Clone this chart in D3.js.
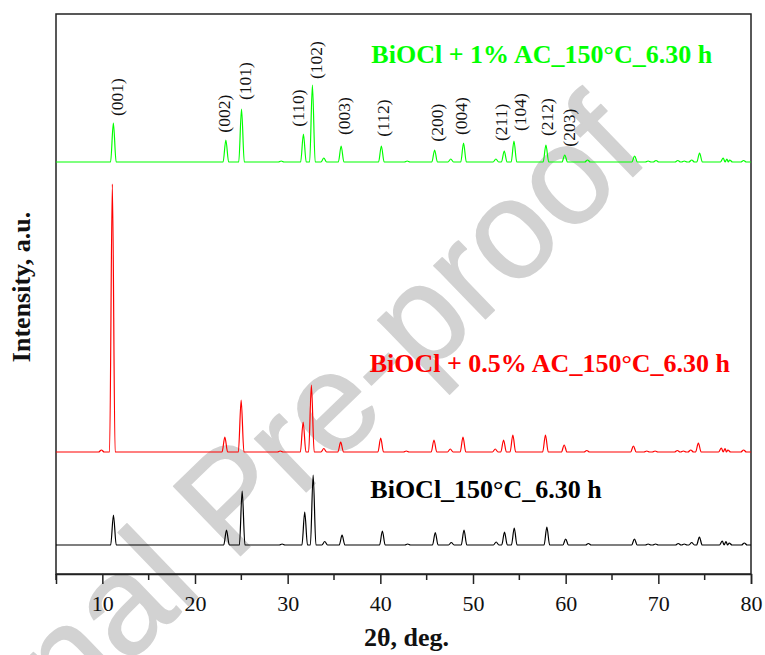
<!DOCTYPE html>
<html><head><meta charset="utf-8">
<script src="https://cdn.jsdelivr.net/npm/d3@7"></script>
<style>body{margin:0;background:#fff} svg{display:block}</style>
</head><body>
<svg id="c" width="765" height="655"></svg>
<script>
// ---------- data ----------
const seriesNames = ["BiOCl_150°C_6.30 h", "BiOCl + 0.5% AC_150°C_6.30 h", "BiOCl + 1% AC_150°C_6.30 h"];
const seriesColors = ["#000000", "#ff0000", "#00ff00"];
const seriesOffsets = [29, 122, 412];   // vertical stacking offsets (a.u.)

// [2theta, intensity above baseline]
const peaksBlack = [[11.2,30],[23.4,15],[25.09,54],[29.4,1],[31.84,33],[32.75,70],[34.0,3.5],[35.87,10],[40.22,14],[42.95,1],[45.93,12.5],[47.66,2.5],[49.03,15],[52.5,3],[53.4,13],[54.45,17],[57.97,18],[60.0,6],[62.45,1.5],[67.42,6],[68.9,1],[69.7,1],[72.15,1.5],[72.8,1],[73.6,2.5],[74.43,8],[76.9,4],[77.3,3.5],[77.65,2],[79.28,2]];
const peaksRed = [[9.9,2],[11.08,268],[23.22,15],[24.98,52],[29.2,1],[31.67,30],[32.56,67],[33.9,3.5],[35.72,10],[40.04,14],[42.8,1],[45.79,12],[47.55,3],[48.92,15],[52.4,3],[53.3,12],[54.3,17],[57.82,17],[59.84,7],[62.28,1.5],[67.31,6],[68.75,1],[69.65,1],[72.05,1.5],[72.7,1],[73.5,2],[74.32,9],[76.8,4],[77.2,3.5],[77.5,2],[79.2,2]];
const peaksGreen = [[11.19,39],[23.33,22],[25.02,53],[29.3,1],[31.7,28],[32.67,77],[33.9,4],[35.77,16],[40.11,16],[42.9,1],[45.86,12],[47.6,3],[48.98,19],[52.47,3],[53.37,11],[54.42,21],[57.87,17],[59.9,7],[62.36,2],[67.44,6],[68.9,1],[69.75,1.5],[72.1,1.5],[72.8,1],[73.6,2],[74.45,9],[77.0,4],[77.4,3],[77.7,2],[79.2,1.5]];

const hklLabels = ["(001)","(002)","(101)","(110)","(102)","(003)","(112)","(200)","(004)","(211)","(104)","(212)","(203)"];
const hklAngles = [11.62,23.11,25.34,31.13,33.0,36.05,40.29,46.11,48.73,53.01,55.10,57.97,60.30];
const hklHeights = [458,441.3,474,447.3,495,439,437.3,432.3,439,433,443,438,427.3];

const xTicks = [10,20,30,40,50,60,70,80];
const xMinorTicks = [5,15,25,35,45,55,65,75];

// ---------- layout ----------
const M = {left:56, right:751, top:14, bottom:574};
const svg = d3.select("#c");
const x = d3.scaleLinear().domain([5,80]).range([M.left, M.right]);
const y = d3.scaleLinear().domain([0,560]).range([M.bottom, M.top]);
const serif = "'Liberation Serif','Times New Roman',Times,serif";

// watermark
svg.append("text")
  .attr("transform", "translate(652,158) rotate(-44)")
  .attr("text-anchor","end")
  .attr("font-family","'Liberation Sans',Arial,sans-serif")
  .attr("font-size",140)
  .attr("fill","#d2d2d2").attr("stroke","#d2d2d2").attr("stroke-width",1.5)
  .attr("stroke-linejoin","round")
  .text("Journal Pre-proof");

// frame
svg.append("rect").attr("x",M.left).attr("y",M.top)
  .attr("width",M.right-M.left).attr("height",M.bottom-M.top)
  .attr("fill","none").attr("stroke","#222").attr("stroke-width",1.5);

// x axis
const gx = svg.append("g").attr("transform",`translate(0,${M.bottom})`);
gx.call(d3.axisBottom(x).tickValues(xTicks).tickSize(10).tickPadding(11).tickFormat(d3.format("d")))
  .call(g=>g.select(".domain").attr("stroke","#222").attr("stroke-width",1.5))
  .call(g=>g.selectAll(".tick line").attr("stroke","#222").attr("stroke-width",1.5))
  .call(g=>g.selectAll(".tick text").attr("font-family",serif).attr("font-size",22).attr("fill","#111"));
gx.selectAll(".minor").data(xMinorTicks).join("line").attr("class","minor")
  .attr("x1",d=>x(d)).attr("x2",d=>x(d)).attr("y1",0).attr("y2",6)
  .attr("stroke","#222").attr("stroke-width",1.5);

// series lines
const HW = 0.3;
function profile(peaks){
  const pts = [[5,0]];
  peaks.forEach((p,i)=>{
    const prev = peaks[i-1], next = peaks[i+1];
    const l = prev ? Math.max(p[0]-HW,(prev[0]+p[0])/2) : p[0]-HW;
    const r = next ? Math.min(p[0]+HW,(p[0]+next[0])/2) : p[0]+HW;
    if (pts[pts.length-1][0] < l) pts.push([l,0]);
    pts.push([p[0],p[1]]);
    pts.push([r,0]);
  });
  pts.push([80,0]);
  return pts;
}
const allPeaks = [peaksBlack, peaksRed, peaksGreen];
allPeaks.forEach((pk,i)=>{
  const off = seriesOffsets[i];
  const line = d3.line().x(d=>x(d[0])).y(d=>y(d[1]+off)).curve(d3.curveMonotoneX);
  svg.append("path").datum(profile(pk)).attr("d",line)
    .attr("fill","none").attr("stroke",seriesColors[i]).attr("stroke-width",1.2)
    .attr("stroke-linejoin","round");
});

// hkl labels
hklLabels.forEach((t,i)=>{
  svg.append("text")
    .attr("transform",`translate(${x(hklAngles[i])},${y(hklHeights[i])}) rotate(-90)`)
    .attr("dy","0.35em")
    .attr("font-family",serif).attr("font-size",17.5).attr("fill","#111")
    .text(t);
});

// series labels
const labelPos = [[38.92,76],[38.85,202],[39.03,511]];
seriesNames.forEach((n,i)=>{
  svg.append("text").attr("x",x(labelPos[i][0])).attr("y",y(labelPos[i][1]))
    .attr("font-family",serif).attr("font-weight","bold").attr("font-size",26)
    .attr("fill",seriesColors[i]).text(n);
});

// axis titles
svg.append("text").attr("x",(M.left+M.right)/2+3).attr("y",646)
  .attr("text-anchor","middle").attr("font-family",serif).attr("font-weight","bold")
  .attr("font-size",26).attr("fill","#111").text("2θ, deg.");
svg.append("text").attr("transform","translate(30,287) rotate(-90)")
  .attr("text-anchor","middle").attr("font-family",serif).attr("font-weight","bold")
  .attr("font-size",26).attr("fill","#111").text("Intensity, a.u.");
</script>
</body></html>
